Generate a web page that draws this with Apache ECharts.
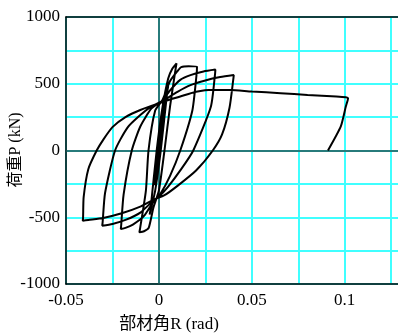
<!DOCTYPE html>
<html>
<head>
<meta charset="utf-8">
<script src="https://cdn.jsdelivr.net/npm/echarts@6/dist/echarts.min.js"></script>
<style>
html,body{margin:0;padding:0;background:#fff;}
#c{width:398px;height:335px;}
</style>
</head>
<body>
<div id="c"></div>
<script>
// Drift angle R (rad) sequence of the hysteresis curve
const driftR = [
  0, 0.0025, 0.0022, 0.0002, -0.0025, -0.0022, -0.0002,
  0.0025, 0.005, 0.0045, 0.001, -0.002, -0.005, -0.0045, -0.0012,
  0.002, 0.005, 0.0072, 0.0095, 0.0092, 0.006, 0.003, 0.0, -0.003, -0.0055, -0.008, -0.0105, -0.0102, -0.007, -0.0056, -0.002, 0.002,
  0.006, 0.01, 0.012, 0.016, 0.0205, 0.0202, 0.018, 0.0115, 0.006, 0.001, -0.003, -0.008, -0.014, -0.018, -0.0205, -0.0203, -0.019, -0.0146, -0.01, -0.004, 0.002,
  0.006, 0.0115, 0.017, 0.024, 0.0304, 0.0302, 0.028, 0.0185, 0.012, 0.005, 0.0, -0.003, -0.01, -0.018, -0.025, -0.0305, -0.0303, -0.029, -0.0236, -0.017, -0.01, -0.004, 0.002,
  0.01, 0.017, 0.025, 0.033, 0.0403, 0.0401, 0.038, 0.034, 0.029, 0.02, 0.01, 0.003, -0.003, -0.01, -0.02, -0.03, -0.038, -0.041, -0.0408, -0.0405, -0.038, -0.0335, -0.03, -0.025, -0.018, -0.01, 0.0025,
  0.0115, 0.02, 0.029, 0.0385, 0.05, 0.0655, 0.08, 0.0955, 0.1006, 0.1018, 0.1006, 0.0979, 0.091
];
// Load P (kN) sequence
const loadP = [
  0, 260, 230, 0, -260, -230, 0,
  290, 480, 440, 0, -300, -480, -440, 0,
  330, 540, 612, 653, 630, 330, 0, -300, -430, -580, -605, -613, -590, -300, 0, 300, 380,
  520, 595, 625, 632, 628, 560, 300, 0, -190, -320, -385, -490, -555, -580, -588, -560, -330, 0, 180, 315, 375,
  450, 529, 565, 592, 606, 570, 330, 0, -140, -270, -345, -375, -465, -520, -550, -563, -540, -320, 0, 170, 265, 330, 372,
  440, 490, 525, 550, 565, 540, 320, 120, 0, -150, -265, -335, -370, -420, -470, -505, -520, -526, -500, -350, -140, 0, 80, 175, 250, 303, 366,
  404, 440, 455, 454, 442, 429, 416, 405, 399, 392, 329, 180, 0
];
const xLabelValues = [-0.05, 0, 0.05, 0.1];
const xLabelTexts = ['-0.05', '0', '0.05', '0.1'];
const yLabelValues = [-1000, -500, 0, 500, 1000];
const yLabelTexts = ['-1000', '-500', '0', '500', '1000'];
const xTitle = '部材角R (rad)';
const yTitle = '荷重P (kN)';

const pts = driftR.map((r, i) => [r, loadP[i]]);
const fontFam = "'Liberation Serif','Times New Roman','Noto Sans CJK JP',serif";
function fmt(vals, texts) {
  return function (v) {
    for (let i = 0; i < vals.length; i++) {
      if (Math.abs(v - vals[i]) < 1e-9) return texts[i];
    }
    return '';
  };
}
const chart = echarts.init(document.getElementById('c'), null, {renderer: 'canvas'});
chart.setOption({
  animation: false,
  backgroundColor: '#ffffff',
  grid: {left: 66, top: 17, width: 335, bottom: 51, containLabel: false, outerBoundsMode: 'none'},
  xAxis: [{
    type: 'value', min: -0.05, max: 0.1303, interval: 0.025,
    axisLine: {show: true, onZero: false, lineStyle: {color: '#000', width: 1.5}},
    axisTick: {show: false},
    splitLine: {show: true, lineStyle: {color: '#40ffff', width: 2}},
    axisLabel: {color: '#000', fontSize: 17, fontFamily: fontFam, margin: 8,
      formatter: fmt(xLabelValues, xLabelTexts)}
  }, {
    type: 'value', position: 'top', min: -0.05, max: 0.1303,
    axisLine: {show: true, onZero: false, lineStyle: {color: '#000', width: 1.5}},
    axisTick: {show: false}, axisLabel: {show: false}, splitLine: {show: false}
  }],
  yAxis: {
    type: 'value', min: -1000, max: 1000, interval: 250,
    axisLine: {show: true, onZero: false, lineStyle: {color: '#000', width: 1.5}},
    axisTick: {show: false},
    splitLine: {show: true, lineStyle: {color: '#40ffff', width: 2}},
    axisLabel: {color: '#000', fontSize: 17, fontFamily: fontFam, margin: 6,
      formatter: fmt(yLabelValues, yLabelTexts)}
  },
  graphic: [
    {type: 'text', x: 16, y: 150, rotation: Math.PI / 2,
      style: {text: yTitle, font: "16px " + fontFam, fill: '#000', textAlign: 'center', textVerticalAlign: 'middle'}},
    {type: 'text', x: 169, y: 325,
      style: {text: xTitle, font: "17px " + fontFam, fill: '#000', textAlign: 'center', textVerticalAlign: 'middle'}}
  ],
  series: [{
    type: 'line', data: pts, showSymbol: false, smooth: 0.2,
    lineStyle: {color: '#000', width: 2},
    silent: true, z: 5,
    markLine: {
      silent: true, symbol: ['none', 'none'], label: {show: false},
      lineStyle: {color: '#1f4f4f', width: 1.5, type: 'solid'},
      data: [{xAxis: 0}, {yAxis: 0}], z: 3
    }
  }]
});
</script>
</body>
</html>
